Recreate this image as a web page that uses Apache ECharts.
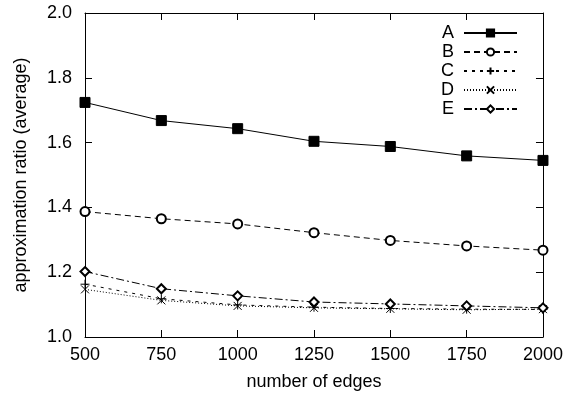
<!DOCTYPE html>
<html>
<head>
<meta charset="utf-8">
<script src="https://cdn.jsdelivr.net/npm/echarts@6/dist/echarts.min.js"></script>
<style>
  html, body { margin: 0; padding: 0; background: #fff; }
  #chart { width: 566px; height: 396px; }
</style>
</head>
<body>
<div id="chart"></div>
<script>
const edges = [500, 750, 1000, 1250, 1500, 1750, 2000];
const seriesA = [1.724, 1.668, 1.643, 1.604, 1.588, 1.559, 1.545];
const seriesB = [1.387, 1.365, 1.349, 1.322, 1.298, 1.281, 1.268];
const seriesC = [1.163, 1.118, 1.099, 1.092, 1.088, 1.086, 1.085];
const seriesD = [1.147, 1.113, 1.096, 1.090, 1.087, 1.084, 1.086];
const seriesE = [1.202, 1.149, 1.127, 1.108, 1.102, 1.096, 1.090];

const FONT = '"Liberation Sans", Arial, sans-serif';
const PLUS = 'path://M5,0L5,10M0,5L10,5';
const CROSS = 'path://M0,0L10,10M0,10L10,0';

const chart = echarts.init(document.getElementById('chart'));

function line(name, data, symbol, size, dash) {
  const strokeOnly = symbol.startsWith('path://');
  return {
    name: name,
    type: 'line',
    data: edges.map((x, i) => [x, data[i]]),
    symbol: symbol,
    symbolSize: size,
    showAllSymbol: true,
    animation: false,
    lineStyle: { color: '#000', width: 1, type: dash },
    itemStyle: {
      color: strokeOnly ? 'rgba(0,0,0,0)' : '#000',
      borderColor: '#000',
      borderWidth: 1
    },
    emphasis: { disabled: true }
  };
}

const axisLine = { show: true, onZero: false, lineStyle: { color: '#000', width: 1 } };
const ticks = { show: true, inside: true, length: 7, lineStyle: { color: '#000', width: 1 } };

chart.setOption({
  backgroundColor: '#fff',
  textStyle: { fontFamily: FONT },
  grid: { left: 85, right: 20, top: 13, bottom: 59 },
  legend: {
    orient: 'vertical',
    right: 43,
    top: 19,
    align: 'right',
    itemWidth: 53,
    itemHeight: 9,
    itemGap: 1,
    formatter: name => name + ' ',
    textStyle: { fontFamily: FONT, fontSize: 18, color: '#000' },
    data: ['A', 'B', 'C', 'D', 'E']
  },
  xAxis: [
    {
      type: 'value', min: 500, max: 2000, interval: 250,
      name: 'number of edges', nameLocation: 'middle', nameGap: 36,
      nameTextStyle: { fontFamily: FONT, fontSize: 18, color: '#000' },
      axisLine: axisLine, axisTick: ticks,
      axisLabel: { fontFamily: FONT, fontSize: 18, color: '#000', margin: 9,
        formatter: v => String(v) },
      splitLine: { show: false }
    },
    {
      type: 'value', position: 'top', min: 500, max: 2000, interval: 250,
      axisLine: axisLine, axisTick: ticks, axisLabel: { show: false }, splitLine: { show: false }
    }
  ],
  yAxis: [
    {
      type: 'value', min: 1.0, max: 2.0, interval: 0.2,
      name: 'approximation ratio (average)', nameLocation: 'middle', nameGap: 55,
      nameTextStyle: { fontFamily: FONT, fontSize: 18, color: '#000' },
      axisLine: axisLine, axisTick: ticks,
      axisLabel: { fontFamily: FONT, fontSize: 18, color: '#000', margin: 13,
        formatter: v => v.toFixed(1) },
      splitLine: { show: false }
    },
    {
      type: 'value', position: 'right', min: 1.0, max: 2.0, interval: 0.2,
      axisLine: axisLine, axisTick: ticks, axisLabel: { show: false }, splitLine: { show: false }
    }
  ],
  series: [
    line('A', seriesA, 'rect', 10, 'solid'),
    line('B', seriesB, 'emptyCircle', 9, [6, 4]),
    line('C', seriesC, PLUS, 9, [3, 5]),
    line('D', seriesD, CROSS, 8, [1, 2]),
    line('E', seriesE, 'emptyDiamond', 9, [8, 3, 2, 3])
  ]
});
</script>
</body>
</html>
